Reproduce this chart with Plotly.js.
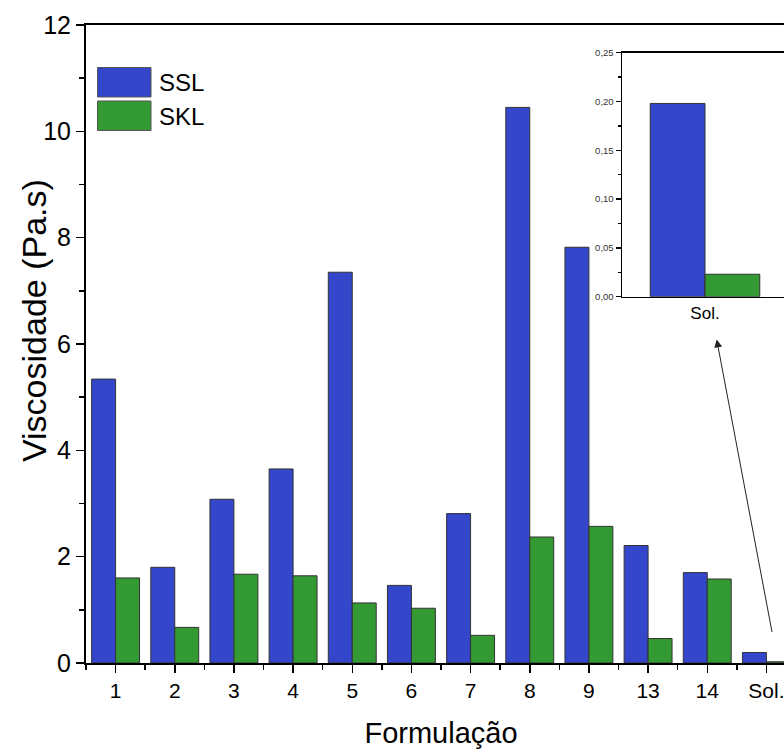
<!DOCTYPE html>
<html>
<head>
<meta charset="utf-8">
<script src="https://cdn.plot.ly/plotly-3.0.1.min.js"></script>
<style>
html,body{margin:0;padding:0;overflow:hidden;background:#fff;}
#chart{width:800px;height:749px;}
</style>
</head>
<body>
<div id="chart"></div>
<script>
// ---- data ----
const categories = ["1","2","3","4","5","6","7","8","9","13","14","Sol."];
const seriesNames = ["SSL","SKL"];
const ssl = [5.34, 1.80, 3.08, 3.65, 7.35, 1.46, 2.81, 10.45, 7.82, 2.21, 1.70, 0.198];
const skl = [1.60, 0.67, 1.67, 1.64, 1.13, 1.03, 0.52, 2.37, 2.57, 0.46, 1.58, 0.023];
const yTicksMain = [0, 2, 4, 6, 8, 10, 12];
const yTicksInset = [0, 0.05, 0.10, 0.15, 0.20, 0.25];
const yTitle = "Viscosidade (Pa.s)";
const xTitle = "Formulação";

// ---- style ----
const colors = ["#3447cb", "#339933"];
const outline = {color: "#333333", width: 1};
const FONT = "Liberation Sans, Arial, sans-serif";

// geometry helpers (plot area: x 86..796, y 25..663)
const W = 800, H = 749, L = 86, R = 4, T = 25, B = 86;
const PW = W - L - R, PH = H - T - B;
const px = v => (v - L) / PW;
const py = v => (H - B - v) / PH;

const idx = categories.map((c, i) => i);
const lastIdx = categories.length - 1;

const traces = [
  {type: "bar", name: seriesNames[0], x: idx, y: ssl, marker: {color: colors[0], line: outline}, xaxis: "x", yaxis: "y", showlegend: false},
  {type: "bar", name: seriesNames[1], x: idx, y: skl, marker: {color: colors[1], line: outline}, xaxis: "x", yaxis: "y", showlegend: false},
  {type: "bar", name: seriesNames[0], x: [0], y: [ssl[lastIdx]], width: 0.33, offset: -0.33, marker: {color: colors[0], line: outline}, xaxis: "x2", yaxis: "y2", showlegend: false},
  {type: "bar", name: seriesNames[1], x: [0], y: [skl[lastIdx]], width: 0.33, offset: 0, marker: {color: colors[1], line: outline}, xaxis: "x2", yaxis: "y2", showlegend: false}
];

const shapes = [];
const annotations = [];
// custom legend
const legTop = [67.5, 101];
seriesNames.forEach((n, i) => {
  shapes.push({type: "rect", xref: "paper", yref: "paper",
    x0: px(97.5), x1: px(151), y0: py(legTop[i]), y1: py(legTop[i] + 29.5),
    fillcolor: colors[i], line: {color: "#555", width: 1}});
  annotations.push({xref: "paper", yref: "paper", x: px(157), y: py(legTop[i] + 15),
    xanchor: "left", yanchor: "middle", text: n, showarrow: false,
    font: {family: FONT, size: 24, color: "#000"}});
});
// y-axis title (placed as in the reference, slightly above centre)
annotations.push({xref: "paper", yref: "paper", x: px(34), y: py(321),
  xanchor: "center", yanchor: "middle", textangle: -90, text: yTitle, showarrow: false,
  font: {family: FONT, size: 34, color: "#000"}});
// arrow from Sol. bar to inset
annotations.push({xref: "paper", yref: "paper", x: px(716.7), y: py(339.5),
  ax: 55.6, ay: 294, axref: "pixel", ayref: "pixel", text: "", showarrow: true,
  arrowhead: 2, arrowsize: 1.6, arrowwidth: 1, arrowcolor: "#222", standoff: 0, startstandoff: 0});

const layout = {
  width: W, height: H,
  margin: {l: L, r: R, t: T, b: B, pad: 0},
  paper_bgcolor: "#fff", plot_bgcolor: "#fff",
  separators: ",.",
  barmode: "group", bargap: 0.19, bargroupgap: 0,
  showlegend: false,
  font: {family: FONT, color: "#000"},
  xaxis: {
    domain: [0, 1], range: [-0.5, 11.5], anchor: "y",
    tickmode: "array", tickvals: idx, ticktext: categories,
    ticks: "outside", ticklen: 8, tickwidth: 1.5, tickcolor: "#000",
    minor: {tick0: 0.5, dtick: 1, ticks: "outside", ticklen: 5, tickwidth: 1.5, tickcolor: "#000"},
    showline: true, linecolor: "#000", linewidth: 2, mirror: true,
    showgrid: false, zeroline: false,
    tickfont: {family: FONT, size: 21, color: "#000"},
    title: {text: xTitle, font: {family: FONT, size: 29, color: "#000"}, standoff: 22}
  },
  yaxis: {
    domain: [0, 1], range: [0, 12], anchor: "x",
    tickmode: "array", tickvals: yTicksMain,
    ticks: "outside", ticklen: 8, tickwidth: 1.5, tickcolor: "#000",
    minor: {tick0: 0, dtick: 1, ticks: "outside", ticklen: 5, tickwidth: 1.5, tickcolor: "#000"},
    showline: true, linecolor: "#000", linewidth: 2,
    showgrid: false, zeroline: false,
    tickfont: {family: FONT, size: 25, color: "#000"}
  },
  xaxis2: {
    domain: [px(622), px(788)], range: [-0.5, 0.5], anchor: "y2",
    tickmode: "array", tickvals: [0], ticktext: [categories[lastIdx]], ticks: "",
    showline: true, linecolor: "#000", linewidth: 1.5, mirror: true,
    showgrid: false, zeroline: false,
    tickfont: {family: FONT, size: 17, color: "#000"}
  },
  yaxis2: {
    domain: [py(296.7), py(52.7)], range: [0, 0.25], anchor: "x2",
    tickmode: "array", tickvals: yTicksInset, tickformat: ".2f",
    ticks: "outside", ticklen: 5, tickwidth: 1.5, tickcolor: "#000",
    minor: {tick0: 0, dtick: 0.025, ticks: "outside", ticklen: 3, tickwidth: 1.5, tickcolor: "#000"},
    showline: true, linecolor: "#000", linewidth: 1.5,
    showgrid: false, zeroline: false,
    tickfont: {family: FONT, size: 9.5, color: "#333"}
  },
  shapes: shapes,
  annotations: annotations
};

Plotly.newPlot("chart", traces, layout, {displayModeBar: false, staticPlot: true});
</script>
</body>
</html>
